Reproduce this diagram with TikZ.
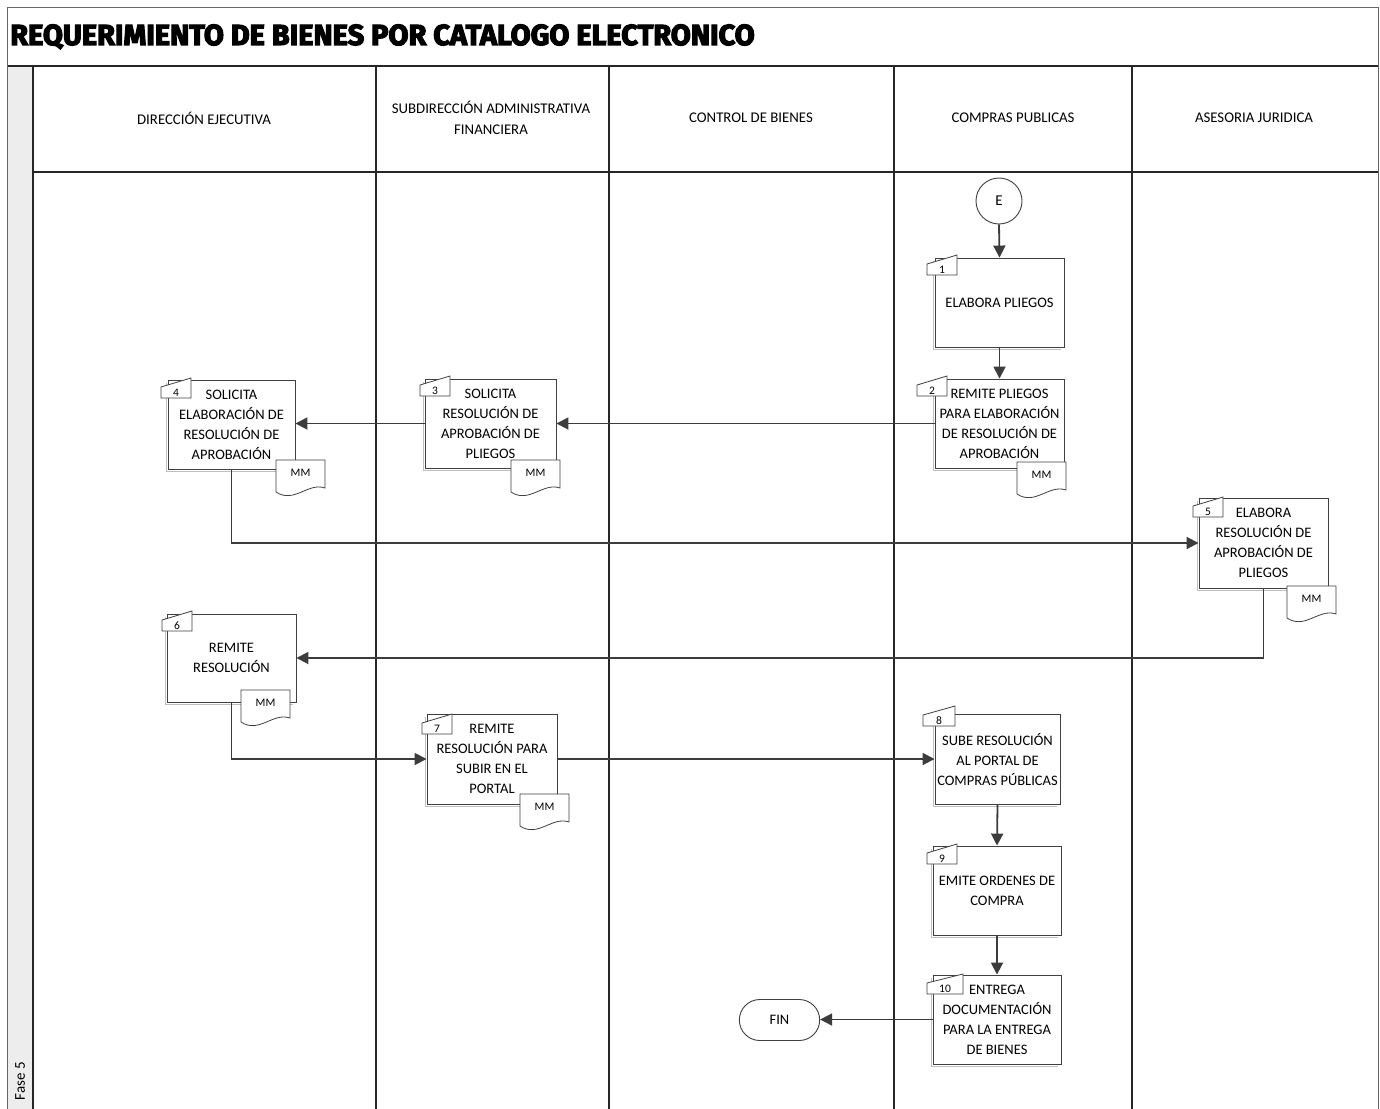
\documentclass[tikz,border=0pt]{standalone}
\usepackage{fontspec}
\usepackage{graphicx}
\setmainfont{Carlito}
\newfontfamily\titlefont[BoldFeatures={FakeBold=4}]{Fira Sans}
\usetikzlibrary{arrows.meta,shapes.misc}

\definecolor{linegray}{HTML}{3C3C3C}
\definecolor{phasegray}{HTML}{EDEDED}

\tikzset{
  frame/.style={draw=black!60, line width=1pt},
  lane/.style={draw=black!85, line width=1.1pt},
  hdr/.style={align=center, font=\fontsize{14.8}{21}\selectfont, inner sep=0pt},
  task/.style={draw=black!75, fill=white, line width=0.9pt, align=center,
               font=\fontsize{14.5}{20}\selectfont, inner sep=0pt},
  shade/.style={draw=black!25, line width=1pt},
  tabline/.style={draw=black!75, fill=white, line width=0.8pt},
  tabnum/.style={font=\fontsize{11.5}{10}\selectfont, inner sep=0pt},
  docline/.style={draw=black!75, fill=white, line width=0.8pt},
  doctext/.style={font=\fontsize{11.5}{10}\selectfont, inner sep=0pt},
  flow/.style={draw=linegray, line width=1.8pt, -{Triangle[length=12pt,width=12pt]}},
  terminal/.style={draw=black!75, fill=white, line width=0.9pt, rounded rectangle,
               minimum width=87pt, minimum height=41pt, font=\fontsize{14.5}{16}\selectfont},
  connector/.style={draw=black!75, fill=white, line width=0.9pt, circle,
               minimum size=46pt, inner sep=0pt, font=\fontsize{15}{16}\selectfont}
}

% activity box with a faint shadow line at its left and bottom edges
\newcommand{\activity}[5]{% name, x, y, width, height, text
  \draw[shade] (#2-#4/2-2,#3-#5/2+3) -- (#2-#4/2-2,#3+#5/2+2) -- (#2+#4/2-3,#3+#5/2+2);
  \node[task, minimum width=#4 pt, minimum height=#5 pt] (#1) at (#2,#3)}

% step number tab: name, centre x, centre y, half width, number
\newcommand{\steptab}[5]{%
  \draw[tabline] (#2-#4,#3+5) -- (#2-#4,#3-6) -- (#2+#4,#3-15) -- (#2+#4,#3+5) -- cycle;
  \node[tabnum] (#1) at (#2,#3) {#5};}

% "MM" document symbol: name, top-left x, top-left y
\newcommand{\mmdoc}[3]{%
  \draw[docline] (#2,#3) -- (#2+49,#3) -- (#2+49,#3+28)
     .. controls (#2+32,#3+22) and (#2+18,#3+44) .. (#2,#3+32) -- cycle;
  \node[doctext] (#1) at (#2+24.5,#3+13) {MM};}

\begin{document}
\begin{tikzpicture}[x=1pt,y=-1pt]
  \useasboundingbox (0,0) rectangle (1380,1108);
  \fill[white] (0,0) rectangle (1380,1108);

  % pool frame, title band and phase strip
  \fill[phasegray] (7.5,66) rectangle (33,1110);
  \draw[frame] (7.5,1110) -- (7.5,7.5) -- (1378,7.5) -- (1378,1110);
  \draw[lane] (7.5,66) -- (1378,66);
  \draw[lane] (33,172) -- (1378,172);
  \foreach \lx in {33,376,609,894,1132} { \draw[lane] (\lx,66) -- (\lx,1110); }

  \node[anchor=base west, inner sep=0pt] (title) at (10,45)
    {\titlefont\bfseries\fontsize{29}{30}\selectfont REQUERIMIENTO DE BIENES POR CATALOGO ELECTRONICO};
  \node[rotate=90, anchor=center, inner sep=0pt, font=\fontsize{15}{16}\selectfont] (fase) at (20,1081) {Fase 5};

  % lane headers
  \node[hdr] (h1) at (204,118) {DIRECCIÓN EJECUTIVA};
  \node[hdr] (h2) at (491,118) {SUBDIRECCIÓN ADMINISTRATIVA\\FINANCIERA};
  \node[hdr] (h3) at (751,118) {CONTROL DE BIENES};
  \node[hdr] (h4) at (1013,118) {COMPRAS PUBLICAS};
  \node[hdr] (h5) at (1254,118) {ASESORIA JURIDICA};

  % start connector and activities
  \node[connector] (e) at (999,201) {E};

  \activity{b1}{999.5}{302.5}{129}{89} {ELABORA PLIEGOS};
  \activity{b2}{999.5}{423.5}{129}{89}
    {REMITE PLIEGOS\\PARA ELABORACIÓN\\DE RESOLUCIÓN DE\\APROBACIÓN};
  \activity{b3}{490.5}{423.5}{131}{89}
    {SOLICITA\\RESOLUCIÓN DE\\APROBACIÓN DE\\PLIEGOS};
  \activity{b4}{231.5}{424.5}{127}{89}
    {SOLICITA\\ELABORACIÓN DE\\RESOLUCIÓN DE\\APROBACIÓN};
  \activity{b5}{1263.5}{543}{129}{90}
    {ELABORA\\RESOLUCIÓN DE\\APROBACIÓN DE\\PLIEGOS};
  \activity{b6}{231.5}{658}{129}{88}
    {REMITE\\RESOLUCIÓN};
  \activity{b7}{492}{759}{130}{90}
    {REMITE\\RESOLUCIÓN PARA\\SUBIR EN EL\\PORTAL};
  \activity{b8}{997.5}{759}{125}{90}
    {SUBE RESOLUCIÓN\\AL PORTAL DE\\COMPRAS PÚBLICAS};
  \activity{b9}{997}{890.5}{128}{89}
    {EMITE ORDENES DE\\COMPRA};
  \activity{b10}{997}{1019.5}{128}{89}
    {ENTREGA\\DOCUMENTACIÓN\\PARA LA ENTREGA\\DE BIENES};

  \node[terminal] (fin) at (779.5,1020) {FIN};

  % step numbers
  \steptab{t1}{942}{270}{15}{1}
  \steptab{t2}{932}{391}{15}{2}
  \steptab{t3}{435}{391}{15}{3}
  \steptab{t4}{176}{393}{15}{4}
  \steptab{t5}{1208}{512}{15}{5}
  \steptab{t6}{177}{626}{15}{6}
  \steptab{t7}{437}{729}{15}{7}
  \steptab{t8}{939}{721}{16}{8}
  \steptab{t9}{942}{859}{15}{9}
  \steptab{t10}{945}{989}{18}{10}

  % documents produced
  \mmdoc{d2}{1017}{462}
  \mmdoc{d3}{511}{460}
  \mmdoc{d4}{276}{460}
  \mmdoc{d5}{1287}{586}
  \mmdoc{d6}{241}{690}
  \mmdoc{d7}{520}{794}

  % flow
  \draw[flow] (e.south) -- (b1.north);
  \draw[flow] (b1.south) -- (b2.north);
  \draw[flow] (b2.west) -- (b3.east);
  \draw[flow] (b3.west) -- (b3.west -| b4.east);
  \draw[flow] (b4.south) |- (b5.west);
  \draw[flow] (b5.south) |- (b6.east);
  \draw[flow] (b6.south) |- (b7.west);
  \draw[flow] (b7.east) -- (b8.west);
  \draw[flow] (b8.south) -- (b9.north);
  \draw[flow] (b9.south) -- (b10.north);
  \draw[flow] (b10.west) -- (b10.west -| fin.east);
\end{tikzpicture}
\end{document}
